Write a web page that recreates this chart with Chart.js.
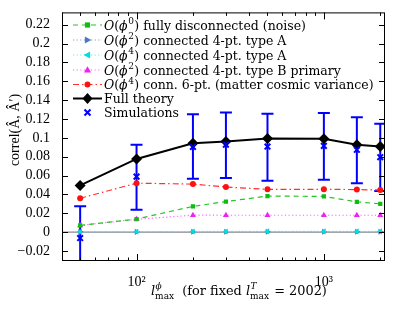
<!DOCTYPE html>
<html>
<head>
<meta charset="utf-8">
<script src="https://cdn.jsdelivr.net/npm/chart.js@4.4.0/dist/chart.umd.min.js"></script>
<style>
html,body{margin:0;padding:0;background:#fff;}
#wrap{width:415px;height:312px;position:relative;}
</style>
</head>
<body>
<div id="wrap"><canvas id="c" width="415" height="312"></canvas></div>
<script>
const xVals = [50, 100, 200, 300, 500, 1000, 1500, 2000];
const noise = [0.0072, 0.0140, 0.0274, 0.0325, 0.0383, 0.0380, 0.0322, 0.0301];
const phi2A = [0.0004, 0.0004, 0.0005, 0.0005, 0.0006, 0.0006, 0.0006, 0.0006];
const phi4A = [0.0006, 0.0006, 0.0008, 0.0008, 0.0009, 0.0009, 0.0009, 0.0009];
const phi2B = [0.0072, 0.0137, 0.0181, 0.0180, 0.0180, 0.0180, 0.0180, 0.0180];
const sixPt = [0.0360, 0.0520, 0.0510, 0.0479, 0.0455, 0.0455, 0.0452, 0.0447];
const fullTheory = [0.0496, 0.0777, 0.0942, 0.0962, 0.0993, 0.0990, 0.0928, 0.0908];
const simulations = [-0.0062, 0.0589, 0.0904, 0.0928, 0.0908, 0.0915, 0.0874, 0.0795];
const simLow = [-0.0400, 0.0239, 0.0568, 0.0575, 0.0545, 0.0555, 0.0520, 0.0438];
const simHigh = [0.0274, 0.0928, 0.1250, 0.1270, 0.1257, 0.1264, 0.1219, 0.1151];
const yTickVals = [-0.02, 0, 0.02, 0.04, 0.06, 0.08, 0.1, 0.12, 0.14, 0.16, 0.18, 0.2, 0.22];
const xTickVals = [40, 50, 60, 70, 80, 90, 100, 200, 300, 400, 500, 600, 700, 800, 900, 1000, 2000];
const xMajor = [100, 1000];
const xMajorLabels = {100: '10²', 1000: '10³'};

const FONT = "'Liberation Serif', 'DejaVu Serif', serif";
const FONT2 = "'DejaVu Serif', 'Liberation Serif', serif";
Chart.defaults.font.family = FONT;
Chart.defaults.font.size = 14;
Chart.defaults.color = '#000';

function pts(arr){ return xVals.map((x,i)=>({x:x, y:arr[i]})); }

const C = {
  green: '#22c822', greenM: '#11bb11',
  blueL: '#7f9fdf', blueM: '#4a78c8',
  cyanL: '#66e8e8', cyanM: '#00dddd',
  magL: '#ff66ff', magM: '#ee22ee',
  red: '#ff3030', redM: '#ff1010',
  black: '#000000', sim: '#0000ff'
};
const DOT = [1.2, 2.4];

const legendItems = [
  {sup:'0', rest:' fully disconnected (noise)', line:C.green, marker:C.greenM, dash:[5,4], shape:'rect', lw:1.2},
  {sup:'2', rest:' connected 4-pt. type A', line:C.blueL, marker:C.blueM, dash:DOT, shape:'triR', lw:1.2},
  {sup:'4', rest:' connected 4-pt. type A', line:C.cyanL, marker:C.cyanM, dash:DOT, shape:'triL', lw:1.2},
  {sup:'2', rest:' connected 4-pt. type B primary', line:C.magL, marker:C.magM, dash:DOT, shape:'triU', lw:1.2},
  {sup:'4', rest:' conn. 6-pt. (matter cosmic variance)', line:C.red, marker:C.redM, dash:[6,3,1.5,3], shape:'circle', lw:1.2},
  {plain:'Full theory', line:C.black, marker:C.black, dash:[], shape:'diamond', lw:2},
  {plain:'Simulations', line:null, marker:C.sim, dash:[], shape:'cross', lw:2}
];

function marker(ctx, shape, x, y, color){
  ctx.save();
  ctx.setLineDash([]);
  ctx.fillStyle = color; ctx.strokeStyle = color;
  ctx.beginPath();
  if (shape==='rect'){ ctx.rect(x-2.6,y-2.6,5.2,5.2); ctx.fill(); }
  else if (shape==='circle'){ ctx.arc(x,y,3,0,Math.PI*2); ctx.fill(); }
  else if (shape==='diamond'){ ctx.moveTo(x,y-5.5); ctx.lineTo(x+5,y); ctx.lineTo(x,y+5.5); ctx.lineTo(x-5,y); ctx.closePath(); ctx.fill(); }
  else if (shape==='triU'){ ctx.moveTo(x,y-3.8); ctx.lineTo(x+3.5,y+2.6); ctx.lineTo(x-3.5,y+2.6); ctx.closePath(); ctx.fill(); }
  else if (shape==='triR'){ ctx.moveTo(x+3.8,y); ctx.lineTo(x-2.6,y+3.5); ctx.lineTo(x-2.6,y-3.5); ctx.closePath(); ctx.fill(); }
  else if (shape==='triL'){ ctx.moveTo(x-3.8,y); ctx.lineTo(x+2.6,y+3.5); ctx.lineTo(x+2.6,y-3.5); ctx.closePath(); ctx.fill(); }
  else if (shape==='cross'){ ctx.lineWidth=2; ctx.moveTo(x-3,y-3); ctx.lineTo(x+3,y+3); ctx.moveTo(x+3,y-3); ctx.lineTo(x-3,y+3); ctx.stroke(); }
  ctx.restore();
}

const custom = {
  id: 'custom',
  beforeDatasetsDraw(chart){
    const ctx = chart.ctx, a = chart.chartArea, xs = chart.scales.x, ys = chart.scales.y;
    ctx.save();
    ctx.beginPath(); ctx.rect(a.left, a.top, a.right-a.left, a.bottom-a.top); ctx.clip();
    const y0 = ys.getPixelForValue(0);
    ctx.strokeStyle = '#8a8a8a'; ctx.lineWidth = 1.2;
    ctx.beginPath(); ctx.moveTo(a.left, y0); ctx.lineTo(a.right, y0); ctx.stroke();
    ctx.strokeStyle = C.sim; ctx.lineWidth = 2;
    xVals.forEach((x,i)=>{
      const px = xs.getPixelForValue(x);
      const lo = ys.getPixelForValue(simLow[i]);
      const hi = ys.getPixelForValue(simHigh[i]);
      ctx.beginPath();
      ctx.moveTo(px, lo); ctx.lineTo(px, hi);
      ctx.moveTo(px-6, lo); ctx.lineTo(px+6, lo);
      ctx.moveTo(px-6, hi); ctx.lineTo(px+6, hi);
      ctx.stroke();
    });
    ctx.restore();
  },
  afterDraw(chart){
    const ctx = chart.ctx, a = chart.chartArea, xs = chart.scales.x, ys = chart.scales.y;
    ctx.save();
    ctx.strokeStyle = '#000'; ctx.lineWidth = 1; ctx.setLineDash([]);
    ctx.strokeRect(a.left+0.5, a.top+0.5, a.right-a.left-1, a.bottom-a.top-1);
    ctx.beginPath();
    yTickVals.forEach(v=>{
      const py = Math.round(ys.getPixelForValue(v))+0.5;
      ctx.moveTo(a.left, py); ctx.lineTo(a.left+6, py);
      ctx.moveTo(a.right, py); ctx.lineTo(a.right-6, py);
    });
    xTickVals.forEach(v=>{
      const px = Math.round(xs.getPixelForValue(v))+0.5;
      const L = xMajor.includes(v) ? 7 : 3.5;
      ctx.moveTo(px, a.bottom); ctx.lineTo(px, a.bottom-L);
      ctx.moveTo(px, a.top); ctx.lineTo(px, a.top+L);
    });
    ctx.stroke();

    // legend
    const rowY = [25, 40, 55, 70, 84.5, 98.5, 112.5];
    const sx0 = 73, sx1 = 102, mx = 87.5, tx = 104;
    const FS = '12.5px ';
    ctx.textBaseline = 'alphabetic';
    legendItems.forEach((it, i)=>{
      const y = rowY[i];
      if (it.line){
        ctx.save();
        ctx.strokeStyle = it.line; ctx.lineWidth = it.lw; ctx.setLineDash(it.dash);
        ctx.beginPath(); ctx.moveTo(sx0, y); ctx.lineTo(sx1, y); ctx.stroke();
        ctx.restore();
      }
      marker(ctx, it.shape, mx, y, it.marker);
      const by = y + 4.5;
      let x = tx;
      ctx.fillStyle = '#000';
      if (it.plain){
        ctx.font = FS + FONT2;
        ctx.fillText(it.plain, x, by);
      } else {
        ctx.font = 'italic ' + FS + FONT2;
        ctx.fillText('O', x, by); x += ctx.measureText('O').width;
        ctx.font = FS + FONT2;
        ctx.fillText('(', x, by); x += ctx.measureText('(').width;
        ctx.font = 'italic ' + FS + FONT2;
        ctx.fillText('ϕ', x, by); x += ctx.measureText('ϕ').width + 0.5;
        ctx.font = '9px ' + FONT2;
        ctx.fillText(it.sup, x, by-5.5); x += ctx.measureText(it.sup).width + 0.5;
        ctx.font = FS + FONT2;
        ctx.fillText(')' + it.rest, x, by);
      }
    });

    // y title
    ctx.save();
    ctx.translate(19, 130);
    ctx.rotate(-Math.PI/2);
    ctx.font = '14px ' + FONT;
    ctx.textAlign = 'center';
    ctx.fillText('correl(Â, Â′)', 0, 0);
    ctx.restore();

    // x title
    let x = 151; const by = 295;
    ctx.textAlign = 'left';
    function seg(t, font, dy){ ctx.font = font; ctx.fillText(t, x, by+(dy||0)); return ctx.measureText(t).width; }
    function supsub(sup, sub, supItalic){
      ctx.font = (supItalic?'italic ':'') + '9px ' + FONT2;
      const w1 = ctx.measureText(sup).width;
      ctx.fillText(sup, x+0.5, by-6);
      ctx.font = '9px ' + FONT2;
      const w2 = ctx.measureText(sub).width;
      ctx.fillText(sub, x, by+4);
      x += Math.max(w1, w2);
    }
    const XF = '12.9px ';
    x += seg('l', 'italic ' + XF + FONT2);
    supsub('ϕ', 'max', true);
    x += seg('  (for fixed ', XF + FONT2);
    x += seg('l', 'italic ' + XF + FONT2);
    supsub('T', 'max', true);
    x += 1;
    seg(' = 2002)', XF + FONT2);
    ctx.restore();
  }
};

const datasets = [
  {label:'Full theory', data:pts(fullTheory), borderColor:C.black, backgroundColor:C.black, borderWidth:2,
   pointStyle:'rectRot', pointRadius:5.5, pointBorderWidth:0, order:1},
  {label:'Simulations', data:pts(simulations), showLine:false, borderColor:C.sim, backgroundColor:C.sim,
   pointStyle:'crossRot', pointRadius:4, pointBorderWidth:2, order:0},
  {label:'O(ϕ⁴) conn. 6-pt.', data:pts(sixPt), borderColor:C.red, backgroundColor:C.redM, borderWidth:1.2,
   borderDash:[6,3,1.5,3], pointStyle:'circle', pointRadius:3, pointBorderWidth:0, order:2},
  {label:'O(ϕ⁰) noise', data:pts(noise), borderColor:C.green, backgroundColor:C.greenM, borderWidth:1.2,
   borderDash:[5,4], pointStyle:'rect', pointRadius:3, pointBorderWidth:0, order:3},
  {label:'O(ϕ²) type B', data:pts(phi2B), borderColor:C.magL, backgroundColor:C.magM, borderWidth:1.2,
   borderDash:DOT, pointStyle:'triangle', pointRadius:3.5, pointBorderWidth:0, order:4},
  {label:'O(ϕ⁴) type A', data:pts(phi4A), borderColor:C.cyanL, backgroundColor:C.cyanM, borderWidth:1.2,
   borderDash:DOT, pointStyle:'triangle', pointRotation:-90, pointRadius:3.5, pointBorderWidth:0, order:5},
  {label:'O(ϕ²) type A', data:pts(phi2A), borderColor:C.blueL, backgroundColor:C.blueM, borderWidth:1.2,
   borderDash:DOT, pointStyle:'triangle', pointRotation:90, pointRadius:3.5, pointBorderWidth:0, order:6}
];

new Chart(document.getElementById('c'), {
  type: 'line',
  data: { datasets },
  options: {
    responsive: false,
    animation: false,
    devicePixelRatio: 1,
    layout: { padding: { left: 0, right: 30, top: 8, bottom: 0 } },
    plugins: { legend: { display: false }, tooltip: { enabled: false } },
    elements: { line: { tension: 0 } },
    scales: {
      x: {
        type: 'logarithmic', min: 40, max: 2120,
        grid: { display: false }, border: { display: false },
        afterBuildTicks(s){ s.ticks = xTickVals.map(v=>({value:v, major: xMajor.includes(v)})); },
        afterFit(s){ s.height = 51; },
        ticks: { autoSkip: false, maxRotation: 0, padding: 5, font: { size: 14 },
          callback(v){ return xMajorLabels[v] || ''; } }
      },
      y: {
        type: 'linear', min: -0.0305, max: 0.233,
        grid: { display: false }, border: { display: false },
        afterBuildTicks(s){ s.ticks = yTickVals.map(v=>({value:v})); },
        afterFit(s){ s.width = 62; },
        ticks: { padding: 4, font: { size: 14 },
          callback(v){ const r = Math.round(v*100)/100; return r < 0 ? '−' + String(-r) : String(r); } }
      }
    }
  },
  plugins: [custom]
});
</script>
</body>
</html>
